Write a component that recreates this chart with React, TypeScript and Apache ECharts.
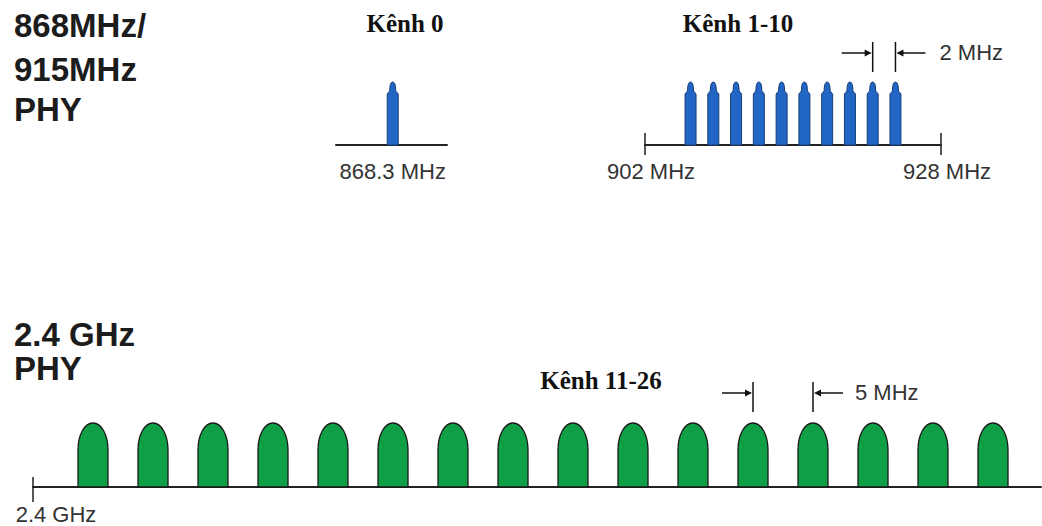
import React, { useEffect, useRef } from "react";
import * as echarts from "echarts";

// ---- data ----
const ch0Freq = [868.3];
const ch1to10Freq = [906, 908, 910, 912, 914, 916, 918, 920, 922, 924];
const ch11to26Freq = [2405, 2410, 2415, 2420, 2425, 2430, 2435, 2440, 2445, 2450, 2455, 2460, 2465, 2470, 2475, 2480];
const channelLevel = 1;
const ch0TickValues = [868.3];
const subGhzTickValues = [902, 928];
const ghzTickValues = [2400];
const spacing2MHz = [922, 924];
const spacing5MHz = [2460, 2465];
const bandTitles = ["Kênh 0", "Kênh 1-10", "Kênh 11-26"];

const SANS = '"Liberation Sans", Arial, Helvetica, sans-serif';
const SERIF = '"Liberation Serif", "Times New Roman", serif';
const AXIS_COLOR = "#222";
const LABEL_COLOR = "#333";

const renderBlue = (_params: any, api: any) => {
  const base = api.coord([api.value(0), 0]);
  const top = api.coord([api.value(0), api.value(1)]);
  const cx = base[0];
  const yb = base[1];
  const yt = top[1];
  const hw = 5.5;
  const tw = 3;
  const ys = yt + 12;
  const d = `M${cx - hw} ${yb} L${cx - hw} ${ys} L${cx - tw} ${ys - 3} Q${cx - tw} ${yt} ${cx} ${yt} Q${cx + tw} ${yt} ${cx + tw} ${ys - 3} L${cx + hw} ${ys} L${cx + hw} ${yb} Z`;
  return {
    type: "path",
    shape: { pathData: d },
    style: { fill: "#2166c4", stroke: "#183f7c", lineWidth: 1 },
  };
};

const renderGreen = (_params: any, api: any) => {
  const base = api.coord([api.value(0), 0]);
  const top = api.coord([api.value(0), api.value(1)]);
  const cx = base[0];
  const yb = base[1];
  const yt = top[1];
  const hw = 15;
  const dome = (yb - yt) * 0.42;
  const ym = yt + dome;
  const k = 0.56;
  const d = `M${cx - hw} ${yb} L${cx - hw} ${ym} C${cx - hw} ${ym - k * dome} ${cx - k * hw} ${yt} ${cx} ${yt} C${cx + k * hw} ${yt} ${cx + hw} ${ym - k * dome} ${cx + hw} ${ym} L${cx + hw} ${yb} Z`;
  return {
    type: "path",
    shape: { pathData: d },
    style: { fill: "#0f9f46", stroke: "#1a1a1a", lineWidth: 1.3 },
  };
};

const makeSpacingRenderer = (label: string, lineTop: number, lineBottom: number, arrowUp: number, textGap: number) =>
  (_params: any, api: any) => {
    const a = api.coord([api.value(0), api.value(2)]);
    const b = api.coord([api.value(1), api.value(2)]);
    const yTop = a[1];
    const lx = a[0];
    const rx = b[0];
    const y1 = yTop - lineTop;
    const y2 = yTop - lineBottom;
    const ay = yTop - arrowUp;
    const st = { stroke: "#111", lineWidth: 1.5 };
    return {
      type: "group",
      children: [
        { type: "line", shape: { x1: lx, y1, x2: lx, y2 }, style: st },
        { type: "line", shape: { x1: rx, y1, x2: rx, y2 }, style: st },
        { type: "line", shape: { x1: lx - 31, y1: ay, x2: lx - 5, y2: ay }, style: st },
        { type: "polygon", shape: { points: [[lx - 1, ay], [lx - 8, ay - 3.5], [lx - 8, ay + 3.5]] }, style: { fill: "#111" } },
        { type: "line", shape: { x1: rx + 5, y1: ay, x2: rx + 30, y2: ay }, style: st },
        { type: "polygon", shape: { points: [[rx + 1, ay], [rx + 8, ay - 3.5], [rx + 8, ay + 3.5]] }, style: { fill: "#111" } },
        {
          type: "text",
          style: {
            text: label,
            x: rx + textGap,
            y: ay - 1,
            fill: LABEL_COLOR,
            fontSize: 22,
            fontFamily: SANS,
            verticalAlign: "middle",
            align: "left",
          },
        },
      ],
    };
  };

const axisLineStyle = { lineStyle: { color: AXIS_COLOR, width: 2 } };

export default function App() {
  const ref = useRef<HTMLDivElement>(null);

  useEffect(() => {
    if (!ref.current) return;
    const chart = echarts.init(ref.current, null, { renderer: "svg" });

    const labelBase = { color: LABEL_COLOR, fontSize: 22, fontFamily: SANS, margin: 15 };
    const phyStyle = { fontSize: 33, fontWeight: "bold", fontFamily: SANS, fill: "#1c1c1c", verticalAlign: "middle" };

    const option: any = {
      animation: false,
      backgroundColor: "#ffffff",
      grid: [
        { left: 336, top: 82, width: 111, height: 63 },
        { left: 645, top: 82, width: 296, height: 63 },
        { left: 33, top: 423, width: 1008, height: 64 },
      ],
      xAxis: [
        {
          gridIndex: 0, type: "value", min: 866, max: 870.5, position: "bottom",
          axisLine: axisLineStyle, axisTick: { show: false }, splitLine: { show: false },
          axisLabel: { ...labelBase, customValues: ch0TickValues, formatter: (v: number) => `${v} MHz` },
        },
        {
          gridIndex: 1, type: "value", min: 902, max: 928, position: "bottom",
          axisLine: axisLineStyle, splitLine: { show: false },
          axisTick: { customValues: subGhzTickValues, length: 10, lineStyle: { color: AXIS_COLOR, width: 1.5 } },
          axisLabel: { ...labelBase, customValues: subGhzTickValues, formatter: (v: number) => `${v} MHz`, padding: [0, 0, 0, 12] },
        },
        {
          gridIndex: 1, type: "value", min: 902, max: 928, position: "bottom",
          axisLine: { show: false }, splitLine: { show: false }, axisLabel: { show: false },
          axisTick: { inside: true, customValues: subGhzTickValues, length: 12, lineStyle: { color: AXIS_COLOR, width: 1.5 } },
        },
        {
          gridIndex: 2, type: "value", min: 2400, max: 2484, position: "bottom",
          axisLine: axisLineStyle, splitLine: { show: false },
          axisTick: { customValues: ghzTickValues, length: 15, lineStyle: { color: AXIS_COLOR, width: 1.5 } },
          axisLabel: { ...labelBase, margin: 16, customValues: ghzTickValues, formatter: (v: number) => `${v / 1000} GHz`, padding: [0, 0, 0, 46] },
        },
        {
          gridIndex: 2, type: "value", min: 2400, max: 2484, position: "bottom",
          axisLine: { show: false }, splitLine: { show: false }, axisLabel: { show: false },
          axisTick: { inside: true, customValues: ghzTickValues, length: 10, lineStyle: { color: AXIS_COLOR, width: 1.5 } },
        },
      ],
      yAxis: [0, 1, 2].map((g) => ({
        gridIndex: g, type: "value", min: 0, max: 1, show: false, splitLine: { show: false },
      })),
      series: [
        {
          type: "custom", xAxisIndex: 0, yAxisIndex: 0, renderItem: renderBlue,
          data: ch0Freq.map((f) => [f, channelLevel]), z: 3,
        },
        {
          type: "custom", xAxisIndex: 1, yAxisIndex: 1, renderItem: renderBlue,
          data: ch1to10Freq.map((f) => [f, channelLevel]), z: 3,
        },
        {
          type: "custom", xAxisIndex: 3, yAxisIndex: 2, renderItem: renderGreen,
          data: ch11to26Freq.map((f) => [f, channelLevel]), z: 3,
        },
        {
          type: "custom", xAxisIndex: 1, yAxisIndex: 1,
          renderItem: makeSpacingRenderer("2 MHz", 40, 10, 29, 44),
          encode: { x: [0, 1], y: 2 },
          data: [[spacing2MHz[0], spacing2MHz[1], channelLevel]], z: 4,
        },
        {
          type: "custom", xAxisIndex: 3, yAxisIndex: 2,
          renderItem: makeSpacingRenderer("5 MHz", 41, 11, 30, 42),
          encode: { x: [0, 1], y: 2 },
          data: [[spacing5MHz[0], spacing5MHz[1], channelLevel]], z: 4,
        },
      ],
      graphic: [
        { type: "text", x: 14, y: 25, style: { text: "868MHz/", ...phyStyle } },
        { type: "text", x: 14, y: 69, style: { text: "915MHz", ...phyStyle } },
        { type: "text", x: 14, y: 109, style: { text: "PHY", ...phyStyle } },
        { type: "text", x: 14, y: 334, style: { text: "2.4 GHz", ...phyStyle } },
        { type: "text", x: 14, y: 368, style: { text: "PHY", ...phyStyle } },
        { type: "text", x: 405, y: 23, style: { text: bandTitles[0], fontSize: 25, fontWeight: "bold", fontFamily: SERIF, fill: "#111", align: "center", verticalAlign: "middle" } },
        { type: "text", x: 738, y: 23, style: { text: bandTitles[1], fontSize: 25, fontWeight: "bold", fontFamily: SERIF, fill: "#111", align: "center", verticalAlign: "middle" } },
        { type: "text", x: 601, y: 380, style: { text: bandTitles[2], fontSize: 25, fontWeight: "bold", fontFamily: SERIF, fill: "#111", align: "center", verticalAlign: "middle" } },
      ],
    };

    chart.setOption(option);
    return () => chart.dispose();
  }, []);

  return (
    <div
      ref={ref}
      style={{ position: "fixed", left: 0, top: 0, width: 1042, height: 526, background: "#fff" }}
    />
  );
}
